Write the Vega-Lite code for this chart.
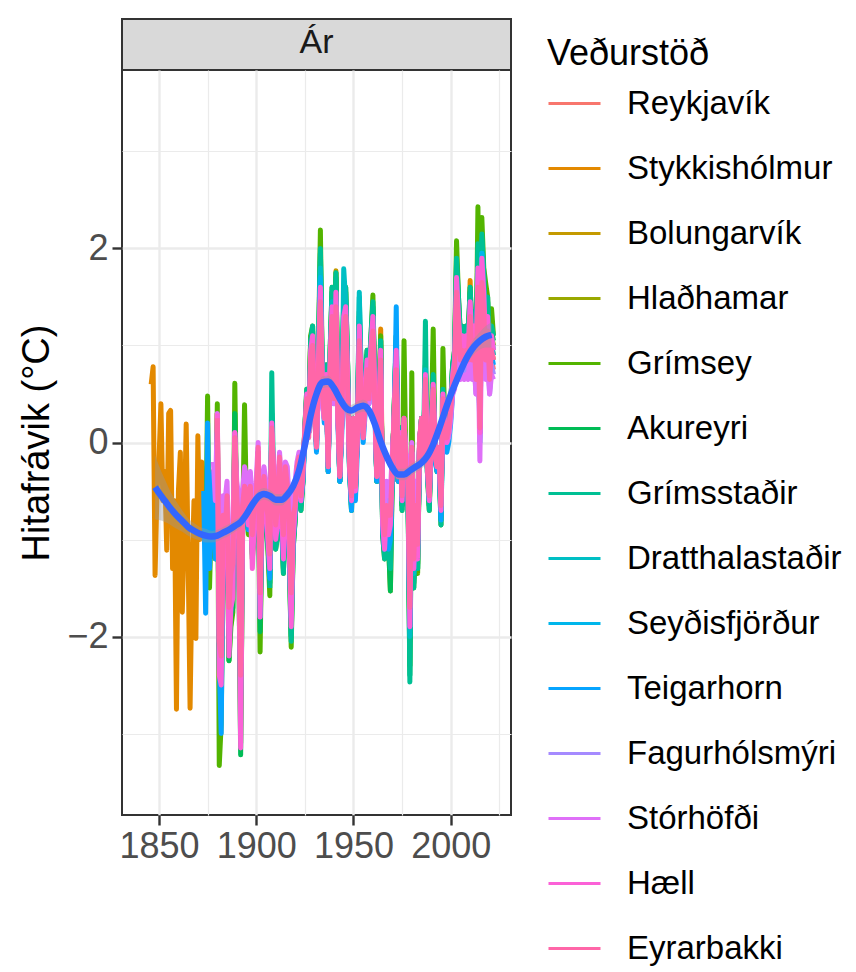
{
"$schema": "https://vega.github.io/schema/vega-lite/v6.json",
"background": "white",
"padding": {"left": 17, "top": 18, "right": 5, "bottom": 5},
"bounds": "flush",
"spacing": 0,
"config": {
 "font": "Liberation Sans",
 "view": {"stroke": null},
 "axis": {"domain": false, "gridColor": "#EBEBEB", "tickColor": "#333333", "tickWidth": 2.4, "tickSize": 10, "labelFontSize": 36, "labelColor": "#4D4D4D", "labelPadding": 4, "titleFontSize": 38, "titleFontWeight": "normal", "titleColor": "#000000"},
 "legend": {"orient": "right", "offset": 17, "titleFontSize": 36, "titleFontWeight": "normal", "titleColor": "#000000", "titlePadding": 3, "labelFontSize": 33, "labelColor": "#000000", "labelLimit": 400, "symbolType": "stroke", "symbolSize": 2704, "symbolStrokeWidth": 3, "rowPadding": 20, "labelOffset": 25, "padding": 18}
},
"datasets": {
"rvk": [{"t":1871,"v":-0.9},{"t":1872,"v":-0.25},{"t":1873,"v":-0.55},{"t":1874,"v":-0.85},{"t":1875,"v":-0.85},{"t":1876,"v":-1.05},{"t":1877,"v":-0.45},{"t":1878,"v":-0.3},{"t":1879,"v":-0.85},{"t":1880,"v":0.3},{"t":1881,"v":-1.9},{"t":1882,"v":-2.0},{"t":1883,"v":-0.75},{"t":1884,"v":-0.85},{"t":1885,"v":-0.55},{"t":1886,"v":-1.5},{"t":1887,"v":-1.3},{"t":1888,"v":-1.25},{"t":1889,"v":0.1},{"t":1890,"v":-0.55},{"t":1891,"v":-0.75},{"t":1892,"v":-2.2},{"t":1893,"v":-0.65},{"t":1894,"v":-0.4},{"t":1895,"v":-0.45},{"t":1896,"v":-0.65},{"t":1897,"v":-0.45},{"t":1898,"v":-0.85},{"t":1899,"v":-0.65},{"t":1900,"v":-0.55},{"t":1901,"v":-0.1},{"t":1902,"v":-1.45},{"t":1903,"v":-0.55},{"t":1904,"v":-0.4},{"t":1905,"v":-0.55},{"t":1906,"v":-0.75},{"t":1907,"v":-1.05},{"t":1908,"v":0.1},{"t":1909,"v":-0.4},{"t":1910,"v":-0.75},{"t":1911,"v":-0.65},{"t":1912,"v":-0.2},{"t":1913,"v":-0.55},{"t":1914,"v":-0.95},{"t":1915,"v":-0.3},{"t":1916,"v":-0.4},{"t":1917,"v":-0.85},{"t":1918,"v":-1.5},{"t":1919,"v":-0.75},{"t":1920,"v":-0.55},{"t":1921,"v":-0.3},{"t":1922,"v":-0.2},{"t":1923,"v":-0.45},{"t":1924,"v":-0.3},{"t":1925,"v":0.1},{"t":1926,"v":0.4},{"t":1927,"v":0.1},{"t":1928,"v":0.75},{"t":1929,"v":0.85},{"t":1930,"v":0.3},{"t":1931,"v":0.0},{"t":1932,"v":0.65},{"t":1933,"v":1.4},{"t":1934,"v":0.5},{"t":1935,"v":0.3},{"t":1936,"v":0.55},{"t":1937,"v":-0.2},{"t":1938,"v":0.65},{"t":1939,"v":1.15},{"t":1940,"v":0.5},{"t":1941,"v":1.25},{"t":1942,"v":0.3},{"t":1943,"v":-0.3},{"t":1944,"v":0.2},{"t":1945,"v":1.05},{"t":1946,"v":1.15},{"t":1947,"v":0.55},{"t":1948,"v":-0.2},{"t":1949,"v":-0.45},{"t":1950,"v":0.2},{"t":1951,"v":-0.4},{"t":1952,"v":0.1},{"t":1953,"v":0.95},{"t":1954,"v":0.45},{"t":1955,"v":0.1},{"t":1956,"v":0.4},{"t":1957,"v":0.65},{"t":1958,"v":0.45},{"t":1959,"v":0.75},{"t":1960,"v":1.05},{"t":1961,"v":0.4},{"t":1962,"v":-0.3},{"t":1963,"v":0.2},{"t":1964,"v":0.75},{"t":1965,"v":-0.65},{"t":1966,"v":-0.85},{"t":1967,"v":-0.55},{"t":1968,"v":-0.75},{"t":1969,"v":-0.65},{"t":1970,"v":-0.2},{"t":1971,"v":0.3},{"t":1972,"v":0.75},{"t":1973,"v":-0.3},{"t":1974,"v":0.1},{"t":1975,"v":-0.45},{"t":1976,"v":0.2},{"t":1977,"v":-0.2},{"t":1978,"v":-0.3},{"t":1979,"v":-1.5},{"t":1980,"v":-0.1},{"t":1981,"v":-1.05},{"t":1982,"v":-0.55},{"t":1983,"v":-0.95},{"t":1984,"v":0.0},{"t":1985,"v":0.2},{"t":1986,"v":-0.1},{"t":1987,"v":0.55},{"t":1988,"v":-0.2},{"t":1989,"v":-0.45},{"t":1990,"v":0.1},{"t":1991,"v":0.45},{"t":1992,"v":-0.1},{"t":1993,"v":-0.2},{"t":1994,"v":-0.1},{"t":1995,"v":-0.55},{"t":1996,"v":0.4},{"t":1997,"v":0.1},{"t":1998,"v":0.0},{"t":1999,"v":0.1},{"t":2000,"v":0.3},{"t":2001,"v":0.55},{"t":2002,"v":0.65},{"t":2003,"v":1.35},{"t":2004,"v":1.05},{"t":2005,"v":0.75},{"t":2006,"v":0.85},{"t":2007,"v":0.75},{"t":2008,"v":0.85},{"t":2009,"v":0.75},{"t":2010,"v":1.15},{"t":2011,"v":0.75},{"t":2012,"v":0.95},{"t":2013,"v":0.55},{"t":2014,"v":1.45},{"t":2015,"v":0.1},{"t":2016,"v":1.5},{"t":2017,"v":1.25},{"t":2018,"v":0.75},{"t":2019,"v":1.05},{"t":2020,"v":0.55},{"t":2021,"v":0.85},{"t":2022,"v":0.75}],
"sth": [{"t":1846,"v":0.6},{"t":1847,"v":0.78},{"t":1848,"v":-1.37},{"t":1849,"v":-0.5},{"t":1850,"v":-0.2},{"t":1851,"v":0.4},{"t":1852,"v":-0.6},{"t":1853,"v":-0.3},{"t":1854,"v":-1.11},{"t":1855,"v":0.3},{"t":1856,"v":0.33},{"t":1857,"v":-1.3},{"t":1858,"v":-0.6},{"t":1859,"v":-2.75},{"t":1860,"v":-0.5},{"t":1861,"v":-0.1},{"t":1862,"v":-1.75},{"t":1863,"v":-0.9},{"t":1864,"v":0.19},{"t":1865,"v":-1.2},{"t":1866,"v":-2.74},{"t":1867,"v":-1.4},{"t":1868,"v":-0.6},{"t":1869,"v":-2.02},{"t":1870,"v":0.07},{"t":1871,"v":-1.0},{"t":1872,"v":-0.2},{"t":1873,"v":-0.65},{"t":1874,"v":-0.95},{"t":1875,"v":-1.0},{"t":1876,"v":-1.15},{"t":1877,"v":-0.55},{"t":1878,"v":-0.3},{"t":1879,"v":-0.95},{"t":1880,"v":0.3},{"t":1881,"v":-2.1},{"t":1882,"v":-2.2},{"t":1883,"v":-0.85},{"t":1884,"v":-0.95},{"t":1885,"v":-0.65},{"t":1886,"v":-1.7},{"t":1887,"v":-1.45},{"t":1888,"v":-1.35},{"t":1889,"v":0.1},{"t":1890,"v":-0.65},{"t":1891,"v":-0.85},{"t":1892,"v":-2.4},{"t":1893,"v":-0.75},{"t":1894,"v":-0.4},{"t":1895,"v":-0.5},{"t":1896,"v":-0.75},{"t":1897,"v":-0.5},{"t":1898,"v":-0.95},{"t":1899,"v":-0.75},{"t":1900,"v":-0.65},{"t":1901,"v":-0.1},{"t":1902,"v":-1.6},{"t":1903,"v":-0.65},{"t":1904,"v":-0.4},{"t":1905,"v":-0.65},{"t":1906,"v":-0.85},{"t":1907,"v":-1.15},{"t":1908,"v":0.1},{"t":1909,"v":-0.4},{"t":1910,"v":-0.85},{"t":1911,"v":-0.75},{"t":1912,"v":-0.2},{"t":1913,"v":-0.65},{"t":1914,"v":-1.05},{"t":1915,"v":-0.3},{"t":1916,"v":-0.4},{"t":1917,"v":-0.95},{"t":1918,"v":-1.7},{"t":1919,"v":-0.85},{"t":1920,"v":-0.65},{"t":1921,"v":-0.3},{"t":1922,"v":-0.2},{"t":1923,"v":-0.5},{"t":1924,"v":-0.3},{"t":1925,"v":0.1},{"t":1926,"v":0.4},{"t":1927,"v":0.1},{"t":1928,"v":1.09},{"t":1929,"v":0.95},{"t":1930,"v":0.3},{"t":1931,"v":0.0},{"t":1932,"v":0.75},{"t":1933,"v":1.55},{"t":1934,"v":0.5},{"t":1935,"v":0.3},{"t":1936,"v":0.6},{"t":1937,"v":-0.2},{"t":1938,"v":0.75},{"t":1939,"v":1.25},{"t":1940,"v":0.5},{"t":1941,"v":1.35},{"t":1942,"v":0.3},{"t":1943,"v":-0.3},{"t":1944,"v":0.2},{"t":1945,"v":1.15},{"t":1946,"v":1.25},{"t":1947,"v":0.6},{"t":1948,"v":-0.2},{"t":1949,"v":-0.5},{"t":1950,"v":0.2},{"t":1951,"v":-0.4},{"t":1952,"v":0.1},{"t":1953,"v":1.05},{"t":1954,"v":0.5},{"t":1955,"v":0.1},{"t":1956,"v":0.4},{"t":1957,"v":0.75},{"t":1958,"v":0.5},{"t":1959,"v":0.85},{"t":1960,"v":1.15},{"t":1961,"v":0.4},{"t":1962,"v":-0.3},{"t":1963,"v":0.2},{"t":1964,"v":1.17},{"t":1965,"v":-0.75},{"t":1966,"v":-0.95},{"t":1967,"v":-0.6},{"t":1968,"v":-0.85},{"t":1969,"v":-0.75},{"t":1970,"v":-0.2},{"t":1971,"v":0.3},{"t":1972,"v":0.85},{"t":1973,"v":-0.3},{"t":1974,"v":0.1},{"t":1975,"v":-0.5},{"t":1976,"v":0.2},{"t":1977,"v":-0.2},{"t":1978,"v":-0.3},{"t":1979,"v":-1.7},{"t":1980,"v":-0.1},{"t":1981,"v":-1.15},{"t":1982,"v":-0.6},{"t":1983,"v":-1.05},{"t":1984,"v":0.0},{"t":1985,"v":0.2},{"t":1986,"v":-0.1},{"t":1987,"v":0.6},{"t":1988,"v":-0.2},{"t":1989,"v":-0.5},{"t":1990,"v":0.1},{"t":1991,"v":0.5},{"t":1992,"v":-0.1},{"t":1993,"v":-0.2},{"t":1994,"v":-0.1},{"t":1995,"v":-0.6},{"t":1996,"v":0.4},{"t":1997,"v":0.1},{"t":1998,"v":0.0},{"t":1999,"v":0.1},{"t":2000,"v":0.3},{"t":2001,"v":0.65},{"t":2002,"v":0.75},{"t":2003,"v":1.5},{"t":2004,"v":1.15},{"t":2005,"v":0.85},{"t":2006,"v":0.95},{"t":2007,"v":0.85},{"t":2008,"v":0.95},{"t":2009,"v":0.85},{"t":2010,"v":1.67},{"t":2011,"v":0.85},{"t":2012,"v":1.05},{"t":2013,"v":0.65},{"t":2014,"v":1.6},{"t":2015,"v":0.1},{"t":2016,"v":1.7},{"t":2017,"v":1.4},{"t":2018,"v":0.85},{"t":2019,"v":1.15},{"t":2020,"v":0.65},{"t":2021,"v":0.95},{"t":2022,"v":0.85}],
"bol": [{"t":1930,"v":0.35},{"t":1931,"v":0.0},{"t":1932,"v":0.75},{"t":1933,"v":1.65},{"t":1934,"v":0.55},{"t":1935,"v":0.35},{"t":1936,"v":0.65},{"t":1937,"v":-0.2},{"t":1938,"v":0.75},{"t":1939,"v":1.3},{"t":1940,"v":0.55},{"t":1941,"v":1.77},{"t":1942,"v":0.35},{"t":1943,"v":-0.35},{"t":1944,"v":0.2},{"t":1945,"v":1.2},{"t":1946,"v":1.3},{"t":1947,"v":0.65},{"t":1948,"v":-0.2},{"t":1949,"v":-0.55},{"t":1950,"v":0.2},{"t":1951,"v":-0.45},{"t":1952,"v":0.1},{"t":1953,"v":1.1},{"t":1954,"v":0.55},{"t":1955,"v":0.1},{"t":1956,"v":0.45},{"t":1957,"v":0.75},{"t":1958,"v":0.55},{"t":1959,"v":0.9},{"t":1960,"v":1.2},{"t":1961,"v":0.45},{"t":1962,"v":-0.35},{"t":1963,"v":0.2},{"t":1964,"v":0.9},{"t":1965,"v":-0.75},{"t":1966,"v":-1.0},{"t":1967,"v":-0.65},{"t":1968,"v":-0.9},{"t":1969,"v":-0.75},{"t":1970,"v":-0.2},{"t":1971,"v":0.35},{"t":1972,"v":0.9},{"t":1973,"v":-0.35},{"t":1974,"v":0.1},{"t":1975,"v":-0.55},{"t":1976,"v":0.2},{"t":1977,"v":-0.2},{"t":1978,"v":-0.35},{"t":1979,"v":-1.75},{"t":1980,"v":-0.1},{"t":1981,"v":-1.2},{"t":1982,"v":-0.65},{"t":1983,"v":-1.1},{"t":1984,"v":0.0},{"t":1985,"v":0.2},{"t":1986,"v":-0.1},{"t":1987,"v":0.65},{"t":1988,"v":-0.2},{"t":1989,"v":-0.55},{"t":1990,"v":0.1},{"t":1991,"v":0.55},{"t":1992,"v":-0.1},{"t":1993,"v":-0.2},{"t":1994,"v":-0.1},{"t":1995,"v":-0.65},{"t":1996,"v":0.45},{"t":1997,"v":0.1},{"t":1998,"v":0.0},{"t":1999,"v":0.1},{"t":2000,"v":0.35},{"t":2001,"v":0.65},{"t":2002,"v":0.75},{"t":2003,"v":1.55},{"t":2004,"v":1.2},{"t":2005,"v":0.9},{"t":2006,"v":1.0},{"t":2007,"v":0.9},{"t":2008,"v":1.0},{"t":2009,"v":0.9},{"t":2010,"v":1.3},{"t":2011,"v":0.9},{"t":2012,"v":1.1},{"t":2013,"v":0.65},{"t":2014,"v":1.65},{"t":2015,"v":0.1},{"t":2016,"v":1.75},{"t":2017,"v":1.45},{"t":2018,"v":0.9},{"t":2019,"v":1.2},{"t":2020,"v":0.65},{"t":2021,"v":1.0},{"t":2022,"v":0.9}],
"hla": [{"t":1950,"v":0.25},{"t":1951,"v":-0.5},{"t":1952,"v":0.1},{"t":1953,"v":1.25},{"t":1954,"v":0.6},{"t":1955,"v":0.1},{"t":1956,"v":0.5},{"t":1957,"v":0.9},{"t":1958,"v":0.6},{"t":1959,"v":1.0},{"t":1960,"v":1.35},{"t":1961,"v":0.5},{"t":1962,"v":-0.4},{"t":1963,"v":0.25},{"t":1964,"v":1.0},{"t":1965,"v":-0.9},{"t":1966,"v":-1.15},{"t":1967,"v":-0.75},{"t":1968,"v":-1.0},{"t":1969,"v":-1.53},{"t":1970,"v":-0.25},{"t":1971,"v":0.35},{"t":1972,"v":1.0},{"t":1973,"v":-0.4},{"t":1974,"v":0.1},{"t":1975,"v":-0.65},{"t":1976,"v":0.25},{"t":1977,"v":-0.25},{"t":1978,"v":-0.4},{"t":1979,"v":-2.05},{"t":1980,"v":-0.15},{"t":1981,"v":-1.4},{"t":1982,"v":-0.75},{"t":1983,"v":-1.25},{"t":1984,"v":0.0},{"t":1985,"v":0.25},{"t":1986,"v":-0.15},{"t":1987,"v":0.75},{"t":1988,"v":-0.25},{"t":1989,"v":-0.65},{"t":1990,"v":0.1},{"t":1991,"v":0.6},{"t":1992,"v":-0.15},{"t":1993,"v":-0.25},{"t":1994,"v":-0.15},{"t":1995,"v":-0.75},{"t":1996,"v":0.5},{"t":1997,"v":0.1},{"t":1998,"v":0.0},{"t":1999,"v":0.1},{"t":2000,"v":0.35},{"t":2001,"v":0.75},{"t":2002,"v":0.85},{"t":2003,"v":1.75},{"t":2004,"v":1.35},{"t":2005,"v":1.0},{"t":2006,"v":1.1},{"t":2007,"v":1.0},{"t":2008,"v":1.1},{"t":2009,"v":1.0},{"t":2010,"v":1.5},{"t":2011,"v":1.0},{"t":2012,"v":1.25},{"t":2013,"v":0.75},{"t":2014,"v":1.85},{"t":2015,"v":0.1},{"t":2016,"v":2.0},{"t":2017,"v":1.6},{"t":2018,"v":1.0},{"t":2019,"v":1.35},{"t":2020,"v":0.75},{"t":2021,"v":1.1},{"t":2022,"v":1.0}],
"gri": [{"t":1874,"v":-1.2},{"t":1875,"v":0.48},{"t":1876,"v":-1.5},{"t":1877,"v":-0.7},{"t":1878,"v":-0.4},{"t":1879,"v":-1.2},{"t":1880,"v":0.4},{"t":1881,"v":-3.33},{"t":1882,"v":-2.9},{"t":1883,"v":-1.1},{"t":1884,"v":-1.2},{"t":1885,"v":-0.8},{"t":1886,"v":-2.25},{"t":1887,"v":-1.9},{"t":1888,"v":-1.75},{"t":1889,"v":0.61},{"t":1890,"v":-0.8},{"t":1891,"v":-1.1},{"t":1892,"v":-3.1},{"t":1893,"v":-0.95},{"t":1894,"v":0.39},{"t":1895,"v":-0.7},{"t":1896,"v":-0.95},{"t":1897,"v":-0.7},{"t":1898,"v":-1.2},{"t":1899,"v":-0.95},{"t":1900,"v":-0.8},{"t":1901,"v":-0.15},{"t":1902,"v":-2.16},{"t":1903,"v":-0.8},{"t":1904,"v":-0.55},{"t":1905,"v":-0.8},{"t":1906,"v":-1.1},{"t":1907,"v":-1.58},{"t":1908,"v":0.15},{"t":1909,"v":-0.55},{"t":1910,"v":-1.1},{"t":1911,"v":-0.95},{"t":1912,"v":-0.3},{"t":1913,"v":-0.8},{"t":1914,"v":-1.35},{"t":1915,"v":-0.4},{"t":1916,"v":-0.55},{"t":1917,"v":-1.2},{"t":1918,"v":-2.11},{"t":1919,"v":-1.1},{"t":1920,"v":-0.8},{"t":1921,"v":-0.4},{"t":1922,"v":-0.3},{"t":1923,"v":-0.7},{"t":1924,"v":-0.4},{"t":1925,"v":0.15},{"t":1926,"v":0.55},{"t":1927,"v":0.15},{"t":1928,"v":1.1},{"t":1929,"v":1.2},{"t":1930,"v":0.4},{"t":1931,"v":0.0},{"t":1932,"v":0.95},{"t":1933,"v":2.19},{"t":1934,"v":0.7},{"t":1935,"v":0.4},{"t":1936,"v":0.8},{"t":1937,"v":-0.3},{"t":1938,"v":0.95},{"t":1939,"v":1.6},{"t":1940,"v":0.65},{"t":1941,"v":1.75},{"t":1942,"v":0.4},{"t":1943,"v":-0.4},{"t":1944,"v":0.3},{"t":1945,"v":1.5},{"t":1946,"v":1.6},{"t":1947,"v":0.8},{"t":1948,"v":-0.3},{"t":1949,"v":-0.7},{"t":1950,"v":0.25},{"t":1951,"v":-0.55},{"t":1952,"v":0.1},{"t":1953,"v":1.35},{"t":1954,"v":0.7},{"t":1955,"v":0.15},{"t":1956,"v":0.55},{"t":1957,"v":0.95},{"t":1958,"v":0.7},{"t":1959,"v":1.1},{"t":1960,"v":1.52},{"t":1961,"v":0.55},{"t":1962,"v":-0.4},{"t":1963,"v":0.25},{"t":1964,"v":1.1},{"t":1965,"v":-0.95},{"t":1966,"v":-1.2},{"t":1967,"v":-0.85},{"t":1968,"v":-1.1},{"t":1969,"v":-1.0},{"t":1970,"v":-0.3},{"t":1971,"v":0.4},{"t":1972,"v":1.1},{"t":1973,"v":-0.4},{"t":1974,"v":0.15},{"t":1975,"v":-0.7},{"t":1976,"v":1.05},{"t":1977,"v":-0.3},{"t":1978,"v":-0.4},{"t":1979,"v":-2.3},{"t":1980,"v":0.72},{"t":1981,"v":-1.5},{"t":1982,"v":-0.8},{"t":1983,"v":-1.35},{"t":1984,"v":0.0},{"t":1985,"v":0.25},{"t":1986,"v":-0.15},{"t":1987,"v":0.8},{"t":1988,"v":-0.3},{"t":1989,"v":-0.7},{"t":1990,"v":0.15},{"t":1991,"v":1.17},{"t":1992,"v":-0.15},{"t":1993,"v":-0.3},{"t":1994,"v":-0.15},{"t":1995,"v":-0.85},{"t":1996,"v":0.97},{"t":1997,"v":0.15},{"t":1998,"v":0.0},{"t":1999,"v":0.15},{"t":2000,"v":0.4},{"t":2001,"v":0.8},{"t":2002,"v":0.95},{"t":2003,"v":2.08},{"t":2004,"v":1.5},{"t":2005,"v":1.1},{"t":2006,"v":1.2},{"t":2007,"v":1.1},{"t":2008,"v":1.2},{"t":2009,"v":1.1},{"t":2010,"v":1.6},{"t":2011,"v":1.1},{"t":2012,"v":1.35},{"t":2013,"v":0.8},{"t":2014,"v":2.43},{"t":2015,"v":0.15},{"t":2016,"v":2.32},{"t":2017,"v":1.8},{"t":2018,"v":1.64},{"t":2019,"v":1.5},{"t":2020,"v":0.8},{"t":2021,"v":1.38},{"t":2022,"v":1.1}],
"aku": [{"t":1882,"v":-2.7},{"t":1883,"v":-1.05},{"t":1884,"v":-1.2},{"t":1885,"v":-0.8},{"t":1886,"v":-2.25},{"t":1887,"v":-1.8},{"t":1888,"v":-1.7},{"t":1889,"v":0.3},{"t":1890,"v":-0.8},{"t":1891,"v":-1.05},{"t":1892,"v":-3.22},{"t":1893,"v":-0.9},{"t":1894,"v":-0.5},{"t":1895,"v":-0.65},{"t":1896,"v":-0.9},{"t":1897,"v":-0.65},{"t":1898,"v":-1.15},{"t":1899,"v":-0.9},{"t":1900,"v":-0.8},{"t":1901,"v":-0.1},{"t":1902,"v":-1.95},{"t":1903,"v":-0.8},{"t":1904,"v":-0.5},{"t":1905,"v":-0.8},{"t":1906,"v":-1.05},{"t":1907,"v":-1.45},{"t":1908,"v":0.3},{"t":1909,"v":-0.5},{"t":1910,"v":-1.05},{"t":1911,"v":-0.9},{"t":1912,"v":-0.25},{"t":1913,"v":-0.8},{"t":1914,"v":-1.3},{"t":1915,"v":-0.4},{"t":1916,"v":-0.5},{"t":1917,"v":-1.15},{"t":1918,"v":-2.0},{"t":1919,"v":-1.05},{"t":1920,"v":-0.8},{"t":1921,"v":-0.4},{"t":1922,"v":-0.25},{"t":1923,"v":-0.65},{"t":1924,"v":-0.4},{"t":1925,"v":0.15},{"t":1926,"v":0.5},{"t":1927,"v":0.15},{"t":1928,"v":1.05},{"t":1929,"v":1.15},{"t":1930,"v":0.4},{"t":1931,"v":0.0},{"t":1932,"v":0.9},{"t":1933,"v":1.95},{"t":1934,"v":0.65},{"t":1935,"v":0.4},{"t":1936,"v":0.8},{"t":1937,"v":-0.25},{"t":1938,"v":0.9},{"t":1939,"v":1.55},{"t":1940,"v":0.65},{"t":1941,"v":1.7},{"t":1942,"v":0.4},{"t":1943,"v":-0.4},{"t":1944,"v":0.25},{"t":1945,"v":1.45},{"t":1946,"v":1.55},{"t":1947,"v":0.8},{"t":1948,"v":-0.25},{"t":1949,"v":-0.65},{"t":1950,"v":0.25},{"t":1951,"v":-0.5},{"t":1952,"v":0.15},{"t":1953,"v":1.3},{"t":1954,"v":0.65},{"t":1955,"v":0.15},{"t":1956,"v":0.5},{"t":1957,"v":0.9},{"t":1958,"v":0.65},{"t":1959,"v":1.05},{"t":1960,"v":1.4},{"t":1961,"v":0.5},{"t":1962,"v":-0.4},{"t":1963,"v":0.25},{"t":1964,"v":1.05},{"t":1965,"v":-0.9},{"t":1966,"v":-1.15},{"t":1967,"v":-0.8},{"t":1968,"v":-1.05},{"t":1969,"v":-1.53},{"t":1970,"v":-0.25},{"t":1971,"v":0.4},{"t":1972,"v":1.05},{"t":1973,"v":-0.4},{"t":1974,"v":0.15},{"t":1975,"v":-0.65},{"t":1976,"v":0.25},{"t":1977,"v":-0.25},{"t":1978,"v":-0.4},{"t":1979,"v":-2.4},{"t":1980,"v":-0.1},{"t":1981,"v":-1.45},{"t":1982,"v":-0.8},{"t":1983,"v":-1.3},{"t":1984,"v":0.0},{"t":1985,"v":0.25},{"t":1986,"v":-0.15},{"t":1987,"v":0.8},{"t":1988,"v":-0.25},{"t":1989,"v":-0.65},{"t":1990,"v":0.15},{"t":1991,"v":0.65},{"t":1992,"v":-0.15},{"t":1993,"v":-0.25},{"t":1994,"v":-0.15},{"t":1995,"v":-0.8},{"t":1996,"v":0.5},{"t":1997,"v":0.15},{"t":1998,"v":0.0},{"t":1999,"v":0.15},{"t":2000,"v":0.4},{"t":2001,"v":0.8},{"t":2002,"v":0.9},{"t":2003,"v":1.85},{"t":2004,"v":1.45},{"t":2005,"v":1.05},{"t":2006,"v":1.15},{"t":2007,"v":1.05},{"t":2008,"v":1.15},{"t":2009,"v":1.05},{"t":2010,"v":1.55},{"t":2011,"v":1.05},{"t":2012,"v":1.3},{"t":2013,"v":0.8},{"t":2014,"v":2.0},{"t":2015,"v":0.15},{"t":2016,"v":2.1},{"t":2017,"v":1.7},{"t":2018,"v":1.05},{"t":2019,"v":1.45},{"t":2020,"v":0.8},{"t":2021,"v":1.15},{"t":2022,"v":1.05}],
"grs": [{"t":1907,"v":-1.5},{"t":1908,"v":0.72},{"t":1909,"v":-0.55},{"t":1910,"v":-1.1},{"t":1911,"v":-0.95},{"t":1912,"v":-0.25},{"t":1913,"v":-0.8},{"t":1914,"v":-1.35},{"t":1915,"v":-0.4},{"t":1916,"v":-0.55},{"t":1917,"v":-1.2},{"t":1918,"v":-2.05},{"t":1919,"v":-1.1},{"t":1920,"v":-0.8},{"t":1921,"v":-0.4},{"t":1922,"v":-0.25},{"t":1923,"v":-0.7},{"t":1924,"v":-0.4},{"t":1925,"v":0.15},{"t":1926,"v":0.55},{"t":1927,"v":0.15},{"t":1928,"v":1.05},{"t":1929,"v":1.2},{"t":1930,"v":0.4},{"t":1931,"v":0.0},{"t":1932,"v":0.95},{"t":1933,"v":2.0},{"t":1934,"v":0.65},{"t":1935,"v":0.4},{"t":1936,"v":0.8},{"t":1937,"v":-0.25},{"t":1938,"v":0.95},{"t":1939,"v":1.6},{"t":1940,"v":0.65},{"t":1941,"v":1.75},{"t":1942,"v":0.4},{"t":1943,"v":-0.4},{"t":1944,"v":0.25},{"t":1945,"v":1.5},{"t":1946,"v":1.6},{"t":1947,"v":0.8},{"t":1948,"v":-0.25},{"t":1949,"v":-0.7},{"t":1950,"v":0.25},{"t":1951,"v":-0.55},{"t":1952,"v":0.1},{"t":1953,"v":1.5},{"t":1954,"v":0.7},{"t":1955,"v":0.15},{"t":1956,"v":0.55},{"t":1957,"v":0.95},{"t":1958,"v":0.7},{"t":1959,"v":1.1},{"t":1960,"v":1.45},{"t":1961,"v":0.55},{"t":1962,"v":-0.4},{"t":1963,"v":0.25},{"t":1964,"v":1.05},{"t":1965,"v":-0.95},{"t":1966,"v":-1.2},{"t":1967,"v":-0.8},{"t":1968,"v":-1.1},{"t":1969,"v":-1.3},{"t":1970,"v":-0.3},{"t":1971,"v":0.4},{"t":1972,"v":1.1},{"t":1973,"v":-0.4},{"t":1974,"v":0.15},{"t":1975,"v":-0.7},{"t":1976,"v":0.25},{"t":1977,"v":-0.3},{"t":1978,"v":-0.4},{"t":1979,"v":-2.47},{"t":1980,"v":-0.15},{"t":1981,"v":-1.5},{"t":1982,"v":-0.8},{"t":1983,"v":-1.3},{"t":1984,"v":0.0},{"t":1985,"v":0.25},{"t":1986,"v":-0.15},{"t":1987,"v":1.25},{"t":1988,"v":-0.3},{"t":1989,"v":-0.7},{"t":1990,"v":0.15},{"t":1991,"v":0.7},{"t":1992,"v":-0.15},{"t":1993,"v":-0.3},{"t":1994,"v":-0.15},{"t":1995,"v":-0.85},{"t":1996,"v":0.55},{"t":1997,"v":0.15},{"t":1998,"v":0.0},{"t":1999,"v":0.15},{"t":2000,"v":0.4},{"t":2001,"v":0.8},{"t":2002,"v":0.95},{"t":2003,"v":1.9},{"t":2004,"v":1.5},{"t":2005,"v":1.1},{"t":2006,"v":1.2},{"t":2007,"v":1.1},{"t":2008,"v":1.2},{"t":2009,"v":1.1},{"t":2010,"v":1.6},{"t":2011,"v":1.1},{"t":2012,"v":1.35},{"t":2013,"v":0.8},{"t":2014,"v":2.05},{"t":2015,"v":0.15},{"t":2016,"v":2.15},{"t":2017,"v":1.75},{"t":2018,"v":1.1},{"t":2019,"v":1.5},{"t":2020,"v":0.8},{"t":2021,"v":1.2},{"t":2022,"v":1.1}],
"dra": [{"t":1931,"v":-0.1},{"t":1932,"v":0.85},{"t":1933,"v":1.8},{"t":1934,"v":0.6},{"t":1935,"v":0.35},{"t":1936,"v":0.7},{"t":1937,"v":-0.3},{"t":1938,"v":0.85},{"t":1939,"v":1.45},{"t":1940,"v":0.6},{"t":1941,"v":1.55},{"t":1942,"v":0.35},{"t":1943,"v":-0.4},{"t":1944,"v":0.25},{"t":1945,"v":1.79},{"t":1946,"v":1.45},{"t":1947,"v":0.7},{"t":1948,"v":-0.3},{"t":1949,"v":-0.65},{"t":1950,"v":0.25},{"t":1951,"v":-0.5},{"t":1952,"v":0.1},{"t":1953,"v":1.55},{"t":1954,"v":0.6},{"t":1955,"v":0.1},{"t":1956,"v":0.5},{"t":1957,"v":0.85},{"t":1958,"v":0.6},{"t":1959,"v":0.95},{"t":1960,"v":1.3},{"t":1961,"v":0.5},{"t":1962,"v":-0.4},{"t":1963,"v":0.25},{"t":1964,"v":0.95},{"t":1965,"v":-0.85},{"t":1966,"v":-1.1},{"t":1967,"v":-0.75},{"t":1968,"v":-1.0},{"t":1969,"v":-0.9},{"t":1970,"v":-0.25},{"t":1971,"v":0.35},{"t":1972,"v":1.0},{"t":1973,"v":-0.4},{"t":1974,"v":0.1},{"t":1975,"v":-0.6},{"t":1976,"v":0.25},{"t":1977,"v":-0.25},{"t":1978,"v":-0.4},{"t":1979,"v":-2.0},{"t":1980,"v":-0.15},{"t":1981,"v":-1.35},{"t":1982,"v":-0.75},{"t":1983,"v":-1.2},{"t":1984,"v":0.0},{"t":1985,"v":0.25},{"t":1986,"v":-0.15},{"t":1987,"v":0.75},{"t":1988,"v":-0.25},{"t":1989,"v":-0.6},{"t":1990,"v":0.1},{"t":1991,"v":0.6},{"t":1992,"v":-0.15},{"t":1993,"v":-0.25},{"t":1994,"v":-0.1},{"t":1995,"v":-0.75},{"t":1996,"v":0.5},{"t":1997,"v":0.1},{"t":1998,"v":0.0},{"t":1999,"v":0.1},{"t":2000,"v":0.35},{"t":2001,"v":0.7},{"t":2002,"v":0.85},{"t":2003,"v":1.7},{"t":2004,"v":1.3},{"t":2005,"v":0.95},{"t":2006,"v":1.1},{"t":2007,"v":0.95},{"t":2008,"v":1.1},{"t":2009,"v":0.95},{"t":2010,"v":1.45},{"t":2011,"v":0.95},{"t":2012,"v":1.2},{"t":2013,"v":0.7},{"t":2014,"v":1.8},{"t":2015,"v":0.1},{"t":2016,"v":1.95},{"t":2017,"v":1.55},{"t":2018,"v":0.95},{"t":2019,"v":1.3},{"t":2020,"v":0.7},{"t":2021,"v":1.1},{"t":2022,"v":0.95}],
"sey": [{"t":1907,"v":-1.3},{"t":1908,"v":0.2},{"t":1909,"v":-0.5},{"t":1910,"v":-0.9},{"t":1911,"v":-0.8},{"t":1912,"v":-0.2},{"t":1913,"v":-0.7},{"t":1914,"v":-1.2},{"t":1915,"v":-0.3},{"t":1916,"v":-0.5},{"t":1917,"v":-1.0},{"t":1918,"v":-1.8},{"t":1919,"v":-0.9},{"t":1920,"v":-0.7},{"t":1921,"v":-0.3},{"t":1922,"v":-0.2},{"t":1923,"v":-0.6},{"t":1924,"v":-0.35},{"t":1925,"v":0.1},{"t":1926,"v":0.45},{"t":1927,"v":0.1},{"t":1928,"v":0.9},{"t":1929,"v":1.0},{"t":1930,"v":0.3},{"t":1931,"v":-0.05},{"t":1932,"v":0.8},{"t":1933,"v":1.7},{"t":1934,"v":0.55},{"t":1935,"v":0.3},{"t":1936,"v":0.65},{"t":1937,"v":-0.25},{"t":1938,"v":0.75},{"t":1939,"v":1.35},{"t":1940,"v":0.5},{"t":1941,"v":1.45},{"t":1942,"v":0.3},{"t":1943,"v":-0.35},{"t":1944,"v":0.2},{"t":1945,"v":1.2},{"t":1946,"v":1.3},{"t":1947,"v":0.65},{"t":1948,"v":-0.25},{"t":1949,"v":-0.6},{"t":1950,"v":0.2},{"t":1951,"v":-0.45},{"t":1952,"v":0.05},{"t":1953,"v":1.15},{"t":1954,"v":0.5},{"t":1955,"v":0.1},{"t":1956,"v":0.45},{"t":1957,"v":0.75},{"t":1958,"v":0.55},{"t":1959,"v":0.85},{"t":1960,"v":1.2},{"t":1961,"v":0.4},{"t":1962,"v":-0.35},{"t":1963,"v":0.2},{"t":1964,"v":0.85},{"t":1965,"v":-0.8},{"t":1966,"v":-1.0},{"t":1967,"v":-0.65},{"t":1968,"v":-0.9},{"t":1969,"v":-0.8},{"t":1970,"v":-0.25},{"t":1971,"v":0.3},{"t":1972,"v":0.9},{"t":1973,"v":-0.35},{"t":1974,"v":0.1},{"t":1975,"v":-0.55},{"t":1976,"v":0.2},{"t":1977,"v":-0.25},{"t":1978,"v":-0.35},{"t":1979,"v":-1.8},{"t":1980,"v":-0.1},{"t":1981,"v":-1.25},{"t":1982,"v":-0.65},{"t":1983,"v":-1.1},{"t":1984,"v":0.0},{"t":1985,"v":0.2},{"t":1986,"v":-0.1},{"t":1987,"v":0.65},{"t":1988,"v":-0.25},{"t":1989,"v":-0.55},{"t":1990,"v":0.1},{"t":1991,"v":0.55},{"t":1992,"v":-0.1},{"t":1993,"v":-0.25},{"t":1994,"v":-0.1},{"t":1995,"v":-0.65},{"t":1996,"v":0.45},{"t":1997,"v":0.1},{"t":1998,"v":0.0},{"t":1999,"v":0.1},{"t":2000,"v":0.3},{"t":2001,"v":0.65},{"t":2002,"v":0.75},{"t":2003,"v":1.55},{"t":2004,"v":1.2},{"t":2005,"v":0.9},{"t":2006,"v":1.0},{"t":2007,"v":0.9},{"t":2008,"v":1.0},{"t":2009,"v":0.9},{"t":2010,"v":1.3},{"t":2011,"v":0.9},{"t":2012,"v":1.1},{"t":2013,"v":0.65},{"t":2014,"v":1.75},{"t":2015,"v":0.1},{"t":2016,"v":1.95},{"t":2017,"v":1.45},{"t":2018,"v":0.9},{"t":2019,"v":1.2},{"t":2020,"v":0.65},{"t":2021,"v":1.0},{"t":2022,"v":0.9}],
"tei": [{"t":1873,"v":-0.5},{"t":1874,"v":-1.76},{"t":1875,"v":0.2},{"t":1876,"v":-1.3},{"t":1877,"v":-0.6},{"t":1878,"v":-0.3},{"t":1879,"v":-1.2},{"t":1880,"v":0.1},{"t":1881,"v":-2.3},{"t":1882,"v":-3.0},{"t":1883,"v":-1.0},{"t":1884,"v":-1.2},{"t":1885,"v":-0.8},{"t":1886,"v":-1.9},{"t":1887,"v":-1.7},{"t":1888,"v":-1.5},{"t":1889,"v":0.0},{"t":1890,"v":-0.8},{"t":1891,"v":-1.0},{"t":1892,"v":-2.6},{"t":1893,"v":-0.9},{"t":1894,"v":-0.5},{"t":1895,"v":-0.7},{"t":1896,"v":-0.9},{"t":1897,"v":-0.6},{"t":1898,"v":-1.1},{"t":1899,"v":-0.9},{"t":1900,"v":-0.8},{"t":1901,"v":-0.2},{"t":1902,"v":-1.8},{"t":1903,"v":-0.8},{"t":1904,"v":-0.5},{"t":1905,"v":-0.7},{"t":1906,"v":-1.0},{"t":1907,"v":-1.4},{"t":1908,"v":0.0},{"t":1909,"v":-0.5},{"t":1910,"v":-0.9},{"t":1911,"v":-0.9},{"t":1912,"v":-0.3},{"t":1913,"v":-0.7},{"t":1914,"v":-1.2},{"t":1915,"v":-0.4},{"t":1916,"v":-0.5},{"t":1917,"v":-1.1},{"t":1918,"v":-1.8},{"t":1919,"v":-1.0},{"t":1920,"v":-0.7},{"t":1921,"v":-0.4},{"t":1922,"v":-0.3},{"t":1923,"v":-0.6},{"t":1924,"v":-0.4},{"t":1925,"v":0.0},{"t":1926,"v":0.4},{"t":1927,"v":0.1},{"t":1928,"v":0.8},{"t":1929,"v":0.9},{"t":1930,"v":0.3},{"t":1931,"v":-0.1},{"t":1932,"v":0.7},{"t":1933,"v":1.6},{"t":1934,"v":0.5},{"t":1935,"v":0.2},{"t":1936,"v":0.6},{"t":1937,"v":-0.3},{"t":1938,"v":0.7},{"t":1939,"v":1.3},{"t":1940,"v":0.4},{"t":1941,"v":1.4},{"t":1942,"v":0.2},{"t":1943,"v":-0.4},{"t":1944,"v":0.1},{"t":1945,"v":1.1},{"t":1946,"v":1.2},{"t":1947,"v":0.5},{"t":1948,"v":-0.3},{"t":1949,"v":-0.7},{"t":1950,"v":0.1},{"t":1951,"v":-0.6},{"t":1952,"v":-0.1},{"t":1953,"v":1.0},{"t":1954,"v":0.4},{"t":1955,"v":0.0},{"t":1956,"v":0.3},{"t":1957,"v":0.6},{"t":1958,"v":0.4},{"t":1959,"v":0.7},{"t":1960,"v":1.1},{"t":1961,"v":0.3},{"t":1962,"v":-0.4},{"t":1963,"v":0.1},{"t":1964,"v":0.8},{"t":1965,"v":-0.9},{"t":1966,"v":-1.1},{"t":1967,"v":-0.7},{"t":1968,"v":-1.1},{"t":1969,"v":-1.0},{"t":1970,"v":-0.3},{"t":1971,"v":0.2},{"t":1972,"v":1.4},{"t":1973,"v":-0.4},{"t":1974,"v":0.0},{"t":1975,"v":-0.6},{"t":1976,"v":0.1},{"t":1977,"v":-0.3},{"t":1978,"v":-0.4},{"t":1979,"v":-1.9},{"t":1980,"v":-0.2},{"t":1981,"v":-1.3},{"t":1982,"v":-0.7},{"t":1983,"v":-1.1},{"t":1984,"v":-0.1},{"t":1985,"v":0.1},{"t":1986,"v":-0.2},{"t":1987,"v":0.5},{"t":1988,"v":-0.3},{"t":1989,"v":-0.6},{"t":1990,"v":0.0},{"t":1991,"v":0.4},{"t":1992,"v":-0.2},{"t":1993,"v":-0.3},{"t":1994,"v":-0.2},{"t":1995,"v":-0.8},{"t":1996,"v":0.3},{"t":1997,"v":0.0},{"t":1998,"v":-0.1},{"t":1999,"v":0.0},{"t":2000,"v":0.2},{"t":2001,"v":0.5},{"t":2002,"v":0.6},{"t":2003,"v":1.5},{"t":2004,"v":1.1},{"t":2005,"v":0.8},{"t":2006,"v":0.9},{"t":2007,"v":0.8},{"t":2008,"v":0.9},{"t":2009,"v":0.8},{"t":2010,"v":1.2},{"t":2011,"v":0.8},{"t":2012,"v":1.0},{"t":2013,"v":0.6},{"t":2014,"v":1.7},{"t":2015,"v":0.0},{"t":2016,"v":1.8},{"t":2017,"v":1.4},{"t":2018,"v":0.8},{"t":2019,"v":1.1},{"t":2020,"v":0.6},{"t":2021,"v":0.9},{"t":2022,"v":0.8}],
"fag": [{"t":1931,"v":-0.05},{"t":1932,"v":0.6},{"t":1933,"v":1.35},{"t":1934,"v":0.45},{"t":1935,"v":0.25},{"t":1936,"v":0.55},{"t":1937,"v":-0.2},{"t":1938,"v":0.65},{"t":1939,"v":1.1},{"t":1940,"v":0.45},{"t":1941,"v":1.15},{"t":1942,"v":0.25},{"t":1943,"v":-0.3},{"t":1944,"v":0.15},{"t":1945,"v":1.0},{"t":1946,"v":1.05},{"t":1947,"v":0.55},{"t":1948,"v":-0.2},{"t":1949,"v":-0.45},{"t":1950,"v":0.15},{"t":1951,"v":-0.35},{"t":1952,"v":0.1},{"t":1953,"v":0.9},{"t":1954,"v":0.45},{"t":1955,"v":0.05},{"t":1956,"v":0.35},{"t":1957,"v":0.6},{"t":1958,"v":0.45},{"t":1959,"v":0.7},{"t":1960,"v":1.0},{"t":1961,"v":0.35},{"t":1962,"v":-0.3},{"t":1963,"v":0.15},{"t":1964,"v":0.7},{"t":1965,"v":-0.65},{"t":1966,"v":-0.8},{"t":1967,"v":-0.55},{"t":1968,"v":-0.7},{"t":1969,"v":-0.6},{"t":1970,"v":-0.2},{"t":1971,"v":0.25},{"t":1972,"v":0.7},{"t":1973,"v":-0.3},{"t":1974,"v":0.05},{"t":1975,"v":-0.45},{"t":1976,"v":0.15},{"t":1977,"v":-0.2},{"t":1978,"v":-0.3},{"t":1979,"v":-1.45},{"t":1980,"v":-0.1},{"t":1981,"v":-1.0},{"t":1982,"v":-0.55},{"t":1983,"v":-0.9},{"t":1984,"v":0.0},{"t":1985,"v":0.15},{"t":1986,"v":-0.1},{"t":1987,"v":0.5},{"t":1988,"v":-0.2},{"t":1989,"v":-0.45},{"t":1990,"v":0.05},{"t":1991,"v":0.45},{"t":1992,"v":-0.1},{"t":1993,"v":-0.2},{"t":1994,"v":-0.1},{"t":1995,"v":-0.55},{"t":1996,"v":0.35},{"t":1997,"v":0.05},{"t":1998,"v":0.0},{"t":1999,"v":0.05},{"t":2000,"v":0.25},{"t":2001,"v":0.55},{"t":2002,"v":0.6},{"t":2003,"v":1.3},{"t":2004,"v":1.0},{"t":2005,"v":0.7},{"t":2006,"v":0.8},{"t":2007,"v":0.7},{"t":2008,"v":0.8},{"t":2009,"v":0.7},{"t":2010,"v":1.1},{"t":2011,"v":0.7},{"t":2012,"v":0.9},{"t":2013,"v":0.5},{"t":2014,"v":1.4},{"t":2015,"v":0.05},{"t":2016,"v":1.5},{"t":2017,"v":1.2},{"t":2018,"v":0.7},{"t":2019,"v":1.0},{"t":2020,"v":0.5},{"t":2021,"v":0.8},{"t":2022,"v":0.7}],
"sto": [{"t":1878,"v":-0.2},{"t":1879,"v":-0.6},{"t":1880,"v":0.3},{"t":1881,"v":-1.45},{"t":1882,"v":-1.5},{"t":1883,"v":-0.55},{"t":1884,"v":-0.6},{"t":1885,"v":-0.4},{"t":1886,"v":-1.15},{"t":1887,"v":-1.0},{"t":1888,"v":-0.9},{"t":1889,"v":0.1},{"t":1890,"v":-0.4},{"t":1891,"v":-0.55},{"t":1892,"v":-1.7},{"t":1893,"v":-0.5},{"t":1894,"v":-0.25},{"t":1895,"v":-0.35},{"t":1896,"v":-0.5},{"t":1897,"v":-0.3},{"t":1898,"v":-0.65},{"t":1899,"v":-0.5},{"t":1900,"v":-0.4},{"t":1901,"v":0.0},{"t":1902,"v":-1.1},{"t":1903,"v":-0.4},{"t":1904,"v":-0.25},{"t":1905,"v":-0.4},{"t":1906,"v":-0.55},{"t":1907,"v":-0.8},{"t":1908,"v":0.1},{"t":1909,"v":-0.25},{"t":1910,"v":-0.55},{"t":1911,"v":-0.5},{"t":1912,"v":-0.1},{"t":1913,"v":-0.4},{"t":1914,"v":-0.7},{"t":1915,"v":-0.2},{"t":1916,"v":-0.25},{"t":1917,"v":-0.65},{"t":1918,"v":-1.15},{"t":1919,"v":-0.55},{"t":1920,"v":-0.4},{"t":1921,"v":-0.2},{"t":1922,"v":-0.1},{"t":1923,"v":-0.35},{"t":1924,"v":-0.2},{"t":1925,"v":0.1},{"t":1926,"v":0.35},{"t":1927,"v":0.1},{"t":1928,"v":0.65},{"t":1929,"v":0.7},{"t":1930,"v":0.25},{"t":1931,"v":0.05},{"t":1932,"v":0.55},{"t":1933,"v":1.15},{"t":1934,"v":0.4},{"t":1935,"v":0.25},{"t":1936,"v":0.5},{"t":1937,"v":-0.1},{"t":1938,"v":0.55},{"t":1939,"v":0.95},{"t":1940,"v":0.4},{"t":1941,"v":1.0},{"t":1942,"v":0.25},{"t":1943,"v":-0.2},{"t":1944,"v":0.2},{"t":1945,"v":0.85},{"t":1946,"v":0.95},{"t":1947,"v":0.5},{"t":1948,"v":-0.1},{"t":1949,"v":-0.3},{"t":1950,"v":0.2},{"t":1951,"v":-0.25},{"t":1952,"v":0.1},{"t":1953,"v":0.8},{"t":1954,"v":0.4},{"t":1955,"v":0.1},{"t":1956,"v":0.35},{"t":1957,"v":0.55},{"t":1958,"v":0.4},{"t":1959,"v":0.65},{"t":1960,"v":0.85},{"t":1961,"v":0.35},{"t":1962,"v":-0.2},{"t":1963,"v":0.2},{"t":1964,"v":0.65},{"t":1965,"v":-0.5},{"t":1966,"v":-0.65},{"t":1967,"v":-0.4},{"t":1968,"v":-0.55},{"t":1969,"v":-0.5},{"t":1970,"v":-0.1},{"t":1971,"v":0.25},{"t":1972,"v":0.65},{"t":1973,"v":-0.2},{"t":1974,"v":0.1},{"t":1975,"v":-0.35},{"t":1976,"v":0.2},{"t":1977,"v":-0.1},{"t":1978,"v":-0.2},{"t":1979,"v":-1.15},{"t":1980,"v":0.0},{"t":1981,"v":-0.8},{"t":1982,"v":-0.4},{"t":1983,"v":-0.7},{"t":1984,"v":0.05},{"t":1985,"v":0.2},{"t":1986,"v":-0.05},{"t":1987,"v":0.5},{"t":1988,"v":-0.1},{"t":1989,"v":-0.35},{"t":1990,"v":0.1},{"t":1991,"v":0.4},{"t":1992,"v":-0.05},{"t":1993,"v":-0.1},{"t":1994,"v":-0.05},{"t":1995,"v":-0.4},{"t":1996,"v":0.35},{"t":1997,"v":0.1},{"t":1998,"v":0.05},{"t":1999,"v":0.1},{"t":2000,"v":0.25},{"t":2001,"v":0.5},{"t":2002,"v":0.55},{"t":2003,"v":1.1},{"t":2004,"v":0.85},{"t":2005,"v":0.65},{"t":2006,"v":0.7},{"t":2007,"v":0.65},{"t":2008,"v":0.7},{"t":2009,"v":0.65},{"t":2010,"v":0.95},{"t":2011,"v":0.65},{"t":2012,"v":0.8},{"t":2013,"v":0.5},{"t":2014,"v":1.15},{"t":2015,"v":-0.19},{"t":2016,"v":1.25},{"t":2017,"v":1.0},{"t":2018,"v":0.65},{"t":2019,"v":0.85},{"t":2020,"v":0.5},{"t":2021,"v":0.7},{"t":2022,"v":0.65}],
"hae": [{"t":1880,"v":0.3},{"t":1881,"v":-2.4},{"t":1882,"v":-2.5},{"t":1883,"v":-1.0},{"t":1884,"v":-1.1},{"t":1885,"v":-0.7},{"t":1886,"v":-2.2},{"t":1887,"v":-1.7},{"t":1888,"v":-1.6},{"t":1889,"v":0.1},{"t":1890,"v":-0.7},{"t":1891,"v":-1.0},{"t":1892,"v":-3.15},{"t":1893,"v":-0.85},{"t":1894,"v":-0.5},{"t":1895,"v":-0.6},{"t":1896,"v":-0.85},{"t":1897,"v":-0.6},{"t":1898,"v":-1.3},{"t":1899,"v":-0.85},{"t":1900,"v":-0.7},{"t":1901,"v":-0.1},{"t":1902,"v":-1.8},{"t":1903,"v":-0.7},{"t":1904,"v":-0.5},{"t":1905,"v":-0.7},{"t":1906,"v":-1.0},{"t":1907,"v":-1.3},{"t":1908,"v":0.2},{"t":1909,"v":-0.5},{"t":1910,"v":-1.0},{"t":1911,"v":-0.85},{"t":1912,"v":-0.25},{"t":1913,"v":-0.7},{"t":1914,"v":-1.2},{"t":1915,"v":-0.35},{"t":1916,"v":-0.5},{"t":1917,"v":-1.1},{"t":1918,"v":-1.9},{"t":1919,"v":-1.0},{"t":1920,"v":-0.7},{"t":1921,"v":-0.35},{"t":1922,"v":-0.25},{"t":1923,"v":-0.6},{"t":1924,"v":-0.35},{"t":1925,"v":0.1},{"t":1926,"v":0.5},{"t":1927,"v":0.1},{"t":1928,"v":0.95},{"t":1929,"v":1.1},{"t":1930,"v":0.35},{"t":1931,"v":0.0},{"t":1932,"v":0.85},{"t":1933,"v":1.6},{"t":1934,"v":0.6},{"t":1935,"v":0.35},{"t":1936,"v":0.7},{"t":1937,"v":-0.25},{"t":1938,"v":0.85},{"t":1939,"v":1.4},{"t":1940,"v":0.6},{"t":1941,"v":1.55},{"t":1942,"v":0.35},{"t":1943,"v":-0.35},{"t":1944,"v":0.25},{"t":1945,"v":1.3},{"t":1946,"v":1.4},{"t":1947,"v":0.7},{"t":1948,"v":-0.25},{"t":1949,"v":-0.6},{"t":1950,"v":0.25},{"t":1951,"v":-0.5},{"t":1952,"v":0.1},{"t":1953,"v":1.2},{"t":1954,"v":0.6},{"t":1955,"v":0.1},{"t":1956,"v":0.5},{"t":1957,"v":0.85},{"t":1958,"v":0.6},{"t":1959,"v":1.0},{"t":1960,"v":1.3},{"t":1961,"v":0.5},{"t":1962,"v":-0.35},{"t":1963,"v":0.25},{"t":1964,"v":0.95},{"t":1965,"v":-0.85},{"t":1966,"v":-1.1},{"t":1967,"v":-0.7},{"t":1968,"v":-0.95},{"t":1969,"v":-0.85},{"t":1970,"v":-0.25},{"t":1971,"v":0.35},{"t":1972,"v":0.95},{"t":1973,"v":-0.35},{"t":1974,"v":0.1},{"t":1975,"v":-0.6},{"t":1976,"v":0.25},{"t":1977,"v":-0.25},{"t":1978,"v":-0.35},{"t":1979,"v":-1.9},{"t":1980,"v":-0.1},{"t":1981,"v":-1.3},{"t":1982,"v":-0.7},{"t":1983,"v":-1.2},{"t":1984,"v":0.0},{"t":1985,"v":0.25},{"t":1986,"v":-0.1},{"t":1987,"v":0.7},{"t":1988,"v":-0.25},{"t":1989,"v":-0.6},{"t":1990,"v":0.1},{"t":1991,"v":0.6},{"t":1992,"v":-0.1},{"t":1993,"v":-0.25},{"t":1994,"v":-0.1},{"t":1995,"v":-0.7},{"t":1996,"v":0.5},{"t":1997,"v":0.1},{"t":1998,"v":0.0},{"t":1999,"v":0.1},{"t":2000,"v":0.35},{"t":2001,"v":0.7},{"t":2002,"v":0.85},{"t":2003,"v":1.7},{"t":2004,"v":1.3},{"t":2005,"v":0.95},{"t":2006,"v":1.1},{"t":2007,"v":0.95},{"t":2008,"v":1.1},{"t":2009,"v":0.95},{"t":2010,"v":1.45},{"t":2011,"v":0.95},{"t":2012,"v":1.2},{"t":2013,"v":0.7},{"t":2014,"v":1.8},{"t":2015,"v":0.1},{"t":2016,"v":1.9},{"t":2017,"v":1.55},{"t":2018,"v":0.95},{"t":2019,"v":1.3},{"t":2020,"v":0.7},{"t":2021,"v":1.1},{"t":2022,"v":0.95}],
"eyr": [{"t":1880,"v":0.25},{"t":1881,"v":-2.05},{"t":1882,"v":-2.2},{"t":1883,"v":-0.75},{"t":1884,"v":-0.95},{"t":1885,"v":-0.55},{"t":1886,"v":-1.7},{"t":1887,"v":-1.35},{"t":1888,"v":-1.25},{"t":1889,"v":0.05},{"t":1890,"v":-0.55},{"t":1891,"v":-0.85},{"t":1892,"v":-2.4},{"t":1893,"v":-0.65},{"t":1894,"v":-0.45},{"t":1895,"v":-0.5},{"t":1896,"v":-0.75},{"t":1897,"v":-0.45},{"t":1898,"v":-0.95},{"t":1899,"v":-0.65},{"t":1900,"v":-0.6},{"t":1901,"v":-0.05},{"t":1902,"v":-1.55},{"t":1903,"v":-0.55},{"t":1904,"v":-0.35},{"t":1905,"v":-0.65},{"t":1906,"v":-0.75},{"t":1907,"v":-1.15},{"t":1908,"v":0.15},{"t":1909,"v":-0.35},{"t":1910,"v":-0.85},{"t":1911,"v":-0.65},{"t":1912,"v":-0.15},{"t":1913,"v":-0.65},{"t":1914,"v":-0.95},{"t":1915,"v":-0.25},{"t":1916,"v":-0.45},{"t":1917,"v":-0.85},{"t":1918,"v":-1.55},{"t":1919,"v":-0.75},{"t":1920,"v":-0.65},{"t":1921,"v":-0.25},{"t":1922,"v":-0.15},{"t":1923,"v":-0.55},{"t":1924,"v":-0.25},{"t":1925,"v":0.15},{"t":1926,"v":0.45},{"t":1927,"v":0.05},{"t":1928,"v":0.85},{"t":1929,"v":1.0},{"t":1930,"v":0.25},{"t":1931,"v":-0.05},{"t":1932,"v":0.75},{"t":1933,"v":1.45},{"t":1934,"v":0.55},{"t":1935,"v":0.25},{"t":1936,"v":0.65},{"t":1937,"v":-0.25},{"t":1938,"v":0.75},{"t":1939,"v":1.3},{"t":1940,"v":0.45},{"t":1941,"v":1.4},{"t":1942,"v":0.25},{"t":1943,"v":-0.35},{"t":1944,"v":0.25},{"t":1945,"v":1.15},{"t":1946,"v":1.3},{"t":1947,"v":0.55},{"t":1948,"v":-0.25},{"t":1949,"v":-0.55},{"t":1950,"v":0.25},{"t":1951,"v":-0.45},{"t":1952,"v":0.05},{"t":1953,"v":1.05},{"t":1954,"v":0.45},{"t":1955,"v":0.05},{"t":1956,"v":0.45},{"t":1957,"v":0.75},{"t":1958,"v":0.45},{"t":1959,"v":0.85},{"t":1960,"v":1.15},{"t":1961,"v":0.35},{"t":1962,"v":-0.35},{"t":1963,"v":0.25},{"t":1964,"v":0.85},{"t":1965,"v":-0.65},{"t":1966,"v":-0.95},{"t":1967,"v":-0.65},{"t":1968,"v":-0.75},{"t":1969,"v":-0.75},{"t":1970,"v":-0.25},{"t":1971,"v":0.35},{"t":1972,"v":0.75},{"t":1973,"v":-0.35},{"t":1974,"v":0.05},{"t":1975,"v":-0.55},{"t":1976,"v":0.25},{"t":1977,"v":-0.25},{"t":1978,"v":-0.35},{"t":1979,"v":-1.7},{"t":1980,"v":-0.05},{"t":1981,"v":-1.2},{"t":1982,"v":-0.65},{"t":1983,"v":-1.05},{"t":1984,"v":0.05},{"t":1985,"v":0.25},{"t":1986,"v":-0.15},{"t":1987,"v":0.65},{"t":1988,"v":-0.25},{"t":1989,"v":-0.55},{"t":1990,"v":0.15},{"t":1991,"v":0.55},{"t":1992,"v":-0.15},{"t":1993,"v":-0.25},{"t":1994,"v":-0.05},{"t":1995,"v":-0.65},{"t":1996,"v":0.45},{"t":1997,"v":0.05},{"t":1998,"v":0.05},{"t":1999,"v":0.15},{"t":2000,"v":0.35},{"t":2001,"v":0.65},{"t":2002,"v":0.75},{"t":2003,"v":1.55},{"t":2004,"v":1.2},{"t":2005,"v":0.85},{"t":2006,"v":0.95},{"t":2007,"v":0.85},{"t":2008,"v":0.95},{"t":2009,"v":0.85},{"t":2010,"v":1.3},{"t":2011,"v":0.85},{"t":2012,"v":1.05},{"t":2013,"v":0.65},{"t":2014,"v":1.6},{"t":2015,"v":0.15},{"t":2016,"v":1.65},{"t":2017,"v":1.35},{"t":2018,"v":0.85},{"t":2019,"v":1.15},{"t":2020,"v":0.65},{"t":2021,"v":0.95},{"t":2022,"v":0.85}],
"smo": [{"t":1848,"v":-0.46,"lo":-0.79,"hi":-0.13},{"t":1850,"v":-0.52,"lo":-0.80,"hi":-0.24},{"t":1853,"v":-0.60,"lo":-0.82,"hi":-0.38},{"t":1856,"v":-0.68,"lo":-0.85,"hi":-0.51},{"t":1859,"v":-0.75,"lo":-0.89,"hi":-0.61},{"t":1862,"v":-0.81,"lo":-0.92,"hi":-0.70},{"t":1865,"v":-0.87,"lo":-0.96,"hi":-0.78},{"t":1868,"v":-0.91,"lo":-0.99,"hi":-0.83},{"t":1871,"v":-0.94,"lo":-1.01,"hi":-0.87},{"t":1874,"v":-0.96,"lo":-1.03,"hi":-0.89},{"t":1877,"v":-0.97,"lo":-1.03,"hi":-0.91},{"t":1880,"v":-0.96,"lo":-1.02,"hi":-0.90},{"t":1883,"v":-0.93,"lo":-0.99,"hi":-0.87},{"t":1886,"v":-0.90,"lo":-0.96,"hi":-0.84},{"t":1889,"v":-0.86,"lo":-0.92,"hi":-0.80},{"t":1892,"v":-0.82,"lo":-0.88,"hi":-0.76},{"t":1895,"v":-0.74,"lo":-0.80,"hi":-0.68},{"t":1898,"v":-0.64,"lo":-0.70,"hi":-0.58},{"t":1901,"v":-0.56,"lo":-0.62,"hi":-0.50},{"t":1904,"v":-0.53,"lo":-0.59,"hi":-0.47},{"t":1907,"v":-0.55,"lo":-0.61,"hi":-0.49},{"t":1910,"v":-0.59,"lo":-0.65,"hi":-0.53},{"t":1913,"v":-0.59,"lo":-0.65,"hi":-0.53},{"t":1916,"v":-0.54,"lo":-0.60,"hi":-0.48},{"t":1919,"v":-0.45,"lo":-0.51,"hi":-0.39},{"t":1922,"v":-0.29,"lo":-0.35,"hi":-0.23},{"t":1925,"v":-0.03,"lo":-0.09,"hi":0.03},{"t":1928,"v":0.28,"lo":0.22,"hi":0.34},{"t":1931,"v":0.50,"lo":0.44,"hi":0.56},{"t":1934,"v":0.62,"lo":0.56,"hi":0.68},{"t":1937,"v":0.63,"lo":0.57,"hi":0.69},{"t":1940,"v":0.56,"lo":0.50,"hi":0.62},{"t":1943,"v":0.45,"lo":0.39,"hi":0.51},{"t":1946,"v":0.36,"lo":0.30,"hi":0.42},{"t":1949,"v":0.33,"lo":0.27,"hi":0.39},{"t":1952,"v":0.36,"lo":0.30,"hi":0.42},{"t":1955,"v":0.38,"lo":0.32,"hi":0.44},{"t":1958,"v":0.33,"lo":0.27,"hi":0.39},{"t":1961,"v":0.19,"lo":0.13,"hi":0.25},{"t":1964,"v":0.01,"lo":-0.05,"hi":0.07},{"t":1967,"v":-0.14,"lo":-0.20,"hi":-0.08},{"t":1970,"v":-0.26,"lo":-0.32,"hi":-0.20},{"t":1973,"v":-0.33,"lo":-0.39,"hi":-0.27},{"t":1976,"v":-0.33,"lo":-0.39,"hi":-0.27},{"t":1979,"v":-0.29,"lo":-0.35,"hi":-0.23},{"t":1982,"v":-0.25,"lo":-0.31,"hi":-0.19},{"t":1985,"v":-0.21,"lo":-0.27,"hi":-0.15},{"t":1988,"v":-0.14,"lo":-0.20,"hi":-0.08},{"t":1991,"v":-0.02,"lo":-0.08,"hi":0.04},{"t":1994,"v":0.14,"lo":0.08,"hi":0.20},{"t":1997,"v":0.32,"lo":0.26,"hi":0.38},{"t":2000,"v":0.49,"lo":0.43,"hi":0.55},{"t":2003,"v":0.64,"lo":0.58,"hi":0.70},{"t":2006,"v":0.78,"lo":0.71,"hi":0.85},{"t":2009,"v":0.90,"lo":0.83,"hi":0.97},{"t":2012,"v":0.99,"lo":0.91,"hi":1.07},{"t":2015,"v":1.05,"lo":0.96,"hi":1.14},{"t":2018,"v":1.09,"lo":0.98,"hi":1.20},{"t":2021,"v":1.11,"lo":0.98,"hi":1.24}]
},
"vconcat": [
 {
  "width": 389, "height": 51,
  "view": {"fill": "#D9D9D9", "stroke": "#333333", "strokeWidth": 2},
  "data": {"values": [{"f": "Ár"}]},
  "mark": {"type": "text", "fontSize": 34, "color": "#1A1A1A", "baseline": "middle", "dy": -2},
  "encoding": {"text": {"field": "f", "type": "nominal"}}
 },
 {
  "width": 389, "height": 745,
  "view": {"stroke": "#333333", "strokeWidth": 2},
  "encoding": {
   "x": {"field": "t", "type": "quantitative", "scale": {"domain": [1831, 2031], "nice": false, "zero": false},
    "axis": {"title": null, "format": "d", "values": [1850, 1875, 1900, 1925, 1950, 1975, 2000, 2025], "labelExpr": "datum.value % 50 == 0 ? datum.label : ''", "grid": true, "gridWidth": {"condition": {"test": "datum.value % 50 == 0", "value": 2.4}, "value": 1.2}, "tickOpacity": {"condition": {"test": "datum.value % 50 == 0", "value": 1}, "value": 0}}},
   "y": {"field": "v", "type": "quantitative", "scale": {"domain": [-3.84, 3.84], "nice": false, "zero": false},
    "axis": {"title": "Hitafrávik (°C)", "titlePadding": 10, "values": [-3, -2, -1, 0, 1, 2, 3], "labelExpr": "datum.value % 2 == 0 ? datum.label : ''", "grid": true, "gridWidth": {"condition": {"test": "datum.value % 2 == 0", "value": 2.4}, "value": 1.2}, "tickOpacity": {"condition": {"test": "datum.value % 2 == 0", "value": 1}, "value": 0}}}
  },
  "layer": [
   {"data": {"name": "rvk"}, "mark": {"type": "line", "strokeWidth": 5, "strokeJoin": "round"}, "encoding": {"color": {"datum": "Reykjavík", "type": "nominal", "title": "Veðurstöð", "scale": {"domain": ["Reykjavík", "Stykkishólmur", "Bolungarvík", "Hlaðhamar", "Grímsey", "Akureyri", "Grímsstaðir", "Dratthalastaðir", "Seyðisfjörður", "Teigarhorn", "Fagurhólsmýri", "Stórhöfði", "Hæll", "Eyrarbakki"], "range": ["#F8766D", "#E38900", "#C49A00", "#99A800", "#53B400", "#00BC56", "#00C094", "#00BFC4", "#00B6EB", "#06A4FF", "#A58AFF", "#DF70F8", "#FB61D7", "#FF66A8"]}}}},
   {"data": {"name": "sth"}, "mark": {"type": "line", "strokeWidth": 5, "strokeJoin": "round"}, "encoding": {"color": {"datum": "Stykkishólmur", "type": "nominal"}}},
   {"data": {"name": "bol"}, "mark": {"type": "line", "strokeWidth": 5, "strokeJoin": "round"}, "encoding": {"color": {"datum": "Bolungarvík", "type": "nominal"}}},
   {"data": {"name": "hla"}, "mark": {"type": "line", "strokeWidth": 5, "strokeJoin": "round"}, "encoding": {"color": {"datum": "Hlaðhamar", "type": "nominal"}}},
   {"data": {"name": "gri"}, "mark": {"type": "line", "strokeWidth": 5, "strokeJoin": "round"}, "encoding": {"color": {"datum": "Grímsey", "type": "nominal"}}},
   {"data": {"name": "aku"}, "mark": {"type": "line", "strokeWidth": 5, "strokeJoin": "round"}, "encoding": {"color": {"datum": "Akureyri", "type": "nominal"}}},
   {"data": {"name": "grs"}, "mark": {"type": "line", "strokeWidth": 5, "strokeJoin": "round"}, "encoding": {"color": {"datum": "Grímsstaðir", "type": "nominal"}}},
   {"data": {"name": "dra"}, "mark": {"type": "line", "strokeWidth": 5, "strokeJoin": "round"}, "encoding": {"color": {"datum": "Dratthalastaðir", "type": "nominal"}}},
   {"data": {"name": "sey"}, "mark": {"type": "line", "strokeWidth": 5, "strokeJoin": "round"}, "encoding": {"color": {"datum": "Seyðisfjörður", "type": "nominal"}}},
   {"data": {"name": "tei"}, "mark": {"type": "line", "strokeWidth": 5, "strokeJoin": "round"}, "encoding": {"color": {"datum": "Teigarhorn", "type": "nominal"}}},
   {"data": {"name": "fag"}, "mark": {"type": "line", "strokeWidth": 5, "strokeJoin": "round"}, "encoding": {"color": {"datum": "Fagurhólsmýri", "type": "nominal"}}},
   {"data": {"name": "sto"}, "mark": {"type": "line", "strokeWidth": 5, "strokeJoin": "round"}, "encoding": {"color": {"datum": "Stórhöfði", "type": "nominal"}}},
   {"data": {"name": "hae"}, "mark": {"type": "line", "strokeWidth": 5, "strokeJoin": "round"}, "encoding": {"color": {"datum": "Hæll", "type": "nominal"}}},
   {"data": {"name": "eyr"}, "mark": {"type": "line", "strokeWidth": 5, "strokeJoin": "round"}, "encoding": {"color": {"datum": "Eyrarbakki", "type": "nominal"}}},
   {"data": {"name": "smo"}, "mark": {"type": "area", "color": "#999999", "opacity": 0.4, "interpolate": "monotone"}, "encoding": {"y": {"field": "lo", "type": "quantitative", "title": "Hitafrávik (°C)"}, "y2": {"field": "hi"}}},
   {"data": {"name": "smo"}, "mark": {"type": "line", "color": "#3366FF", "strokeWidth": 6.5, "interpolate": "monotone"}, "encoding": {}}
  ]
 }
]
}
